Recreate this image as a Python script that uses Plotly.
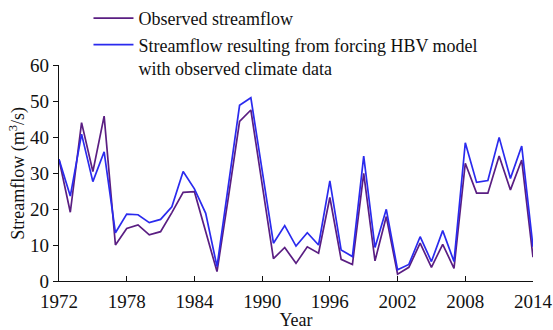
import plotly.graph_objects as go

years = list(range(1972, 2015))
observed = [33.8, 19.1, 44.0, 30.4, 45.8, 10.0, 14.6, 15.6, 12.8, 13.7,
            19.0, 24.6, 24.8, 14.0, 2.6, 23.1, 44.3, 47.5, 27.0, 6.2,
            9.3, 4.9, 9.5, 7.7, 23.2, 6.0, 4.6, 29.9, 5.6, 17.9,
            1.9, 3.8, 10.5, 3.8, 10.2, 3.5, 32.7, 24.4, 24.4, 34.7,
            25.3, 33.6, 6.6]
simulated = [33.8, 23.6, 40.8, 27.6, 35.9, 13.4, 18.6, 18.4, 16.2, 17.1,
             20.6, 30.4, 25.6, 18.8, 4.0, 26.1, 48.8, 50.9, 30.5, 10.5,
             15.4, 9.7, 13.4, 10.0, 27.8, 8.6, 6.8, 34.7, 9.3, 19.9,
             3.1, 4.6, 12.3, 5.4, 14.0, 5.4, 38.4, 27.4, 27.9, 39.9,
             28.5, 37.5, 9.5]
x_ticks = [1972, 1978, 1984, 1990, 1996, 2002, 2008, 2014]
y_ticks = [0, 10, 20, 30, 40, 50, 60]

FONT = "Liberation Serif"

fig = go.Figure()
fig.add_trace(go.Scatter(x=years, y=observed, mode="lines",
                         name="Observed streamflow",
                         line=dict(color="#5a1e82", width=1.7)))
fig.add_trace(go.Scatter(x=years, y=simulated, mode="lines",
                         name="Streamflow resulting from forcing HBV model<br>with observed climate data",
                         line=dict(color="#2a2aee", width=1.7)))

fig.update_layout(
    width=553, height=330,
    margin=dict(l=59, r=20, t=65, b=49, autoexpand=False),
    paper_bgcolor="white", plot_bgcolor="white",
    font=dict(family=FONT, size=18, color="#111"),
    showlegend=True,
    legend=dict(xref="container", yref="container",
                x=0.16, y=1.005, xanchor="left", yanchor="top",
                bgcolor="rgba(0,0,0,0)", font=dict(family=FONT, size=18),
                valign="top", tracegroupgap=0, itemwidth=40,
                traceorder="normal"),
    xaxis=dict(range=[1972, 2014], tickvals=x_ticks, ticks="inside",
               ticklen=5, tickcolor="#111", showline=True, linecolor="#111",
               linewidth=1.2, showgrid=False, zeroline=False, mirror=False,
               automargin=False, ticklabelstandoff=3,
               title=dict(text="Year", font=dict(family=FONT, size=18)),
               tickfont=dict(family=FONT, size=19)),
    yaxis=dict(range=[0, 60], tickvals=y_ticks, ticks="outside",
               ticklen=5, tickcolor="#111", showline=True, linecolor="#111",
               linewidth=1.2, showgrid=False, zeroline=False,
               automargin=False,
               tickfont=dict(family=FONT, size=19)),
    annotations=[dict(text="Streamflow (m<sup>3</sup>/s)", textangle=-90,
                      xref="paper", yref="paper", x=-0.087, y=0.5,
                      xanchor="center", yanchor="middle", showarrow=False,
                      font=dict(family=FONT, size=18, color="#111"))],
)

fig.write_html("out.html")
